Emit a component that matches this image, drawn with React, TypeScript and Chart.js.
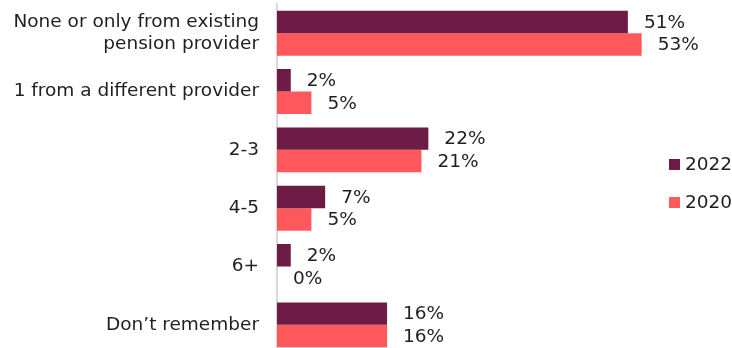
import React, { useEffect, useRef } from "react";
import { Chart, registerables } from "chart.js";

Chart.register(...registerables);

const categories: (string | string[])[] = [
  ["None or only from existing", "pension provider"],
  "1 from a different provider",
  "2-3",
  "4-5",
  "6+",
  "Don\u2019t remember",
];
const series2022 = [51, 2, 22, 7, 2, 16];
const series2020 = [53, 5, 21, 5, 0, 16];
const seriesNames = ["2022", "2020"];
const colors = ["#6D1C45", "#FF595E"];

const FONT = "DejaVu Sans, Verdana, sans-serif";
const FS = 18.5;
const TEXT = "#1f1f1f";

const valueLabels = {
  id: "valueLabels",
  afterDatasetsDraw(chart: any) {
    const ctx = chart.ctx;
    ctx.save();
    ctx.font = `${FS}px ${FONT}`;
    ctx.fillStyle = TEXT;
    ctx.textAlign = "left";
    ctx.textBaseline = "middle";
    chart.data.datasets.forEach((ds: any, di: number) => {
      const meta = chart.getDatasetMeta(di);
      meta.data.forEach((el: any, i: number) => {
        ctx.fillText(`${ds.data[i]}%`, el.x + 16, el.y + 1);
      });
    });
    ctx.restore();
  },
};

const customLegend = {
  id: "customLegend",
  afterDraw(chart: any) {
    const ctx = chart.ctx;
    ctx.save();
    ctx.font = `${FS}px ${FONT}`;
    ctx.textAlign = "left";
    ctx.textBaseline = "middle";
    const ys = [164, 202];
    chart.data.datasets.forEach((ds: any, di: number) => {
      const y = ys[di];
      ctx.fillStyle = ds.backgroundColor;
      ctx.fillRect(669, y - 5, 11, 11);
      ctx.fillStyle = TEXT;
      ctx.fillText(ds.label, 685, y + 1);
    });
    ctx.restore();
  },
};

export default function App() {
  const ref = useRef<HTMLCanvasElement | null>(null);
  useEffect(() => {
    if (!ref.current) return;
    const chart = new Chart(ref.current, {
      type: "bar",
      data: {
        labels: categories,
        datasets: [
          {
            label: seriesNames[0],
            data: series2022,
            backgroundColor: colors[0],
            categoryPercentage: 0.77,
            barPercentage: 1,
          },
          {
            label: seriesNames[1],
            data: series2020,
            backgroundColor: colors[1],
            categoryPercentage: 0.77,
            barPercentage: 1,
          },
        ],
      },
      options: {
        indexAxis: "y",
        animation: false,
        responsive: false,
        maintainAspectRatio: false,
        layout: { padding: { top: 4, right: 76.6, left: 0, bottom: 0 } },
        plugins: {
          legend: { display: false },
          tooltip: { enabled: false },
        },
        scales: {
          x: {
            display: false,
            min: 0,
            max: 55,
          },
          y: {
            grid: { display: false, drawTicks: false },
            border: { display: true, color: "#d9d9d9", width: 2 },
            ticks: {
              padding: 18,
              color: TEXT,
              font: { family: FONT, size: FS, lineHeight: 1.2 },
            },
            afterFit(scale: any) {
              scale.width = 277;
              scale.paddingTop = 0;
              scale.paddingBottom = 0;
            },
          },
        },
      },
      plugins: [valueLabels, customLegend],
    });
    return () => chart.destroy();
  }, []);
  return (
    <div
      style={{
        position: "fixed",
        left: 0,
        top: 0,
        width: 732,
        height: 348,
        overflow: "hidden",
        background: "#fff",
      }}
    >
      <canvas ref={ref} width={732} height={354} style={{ display: "block" }} />
    </div>
  );
}
